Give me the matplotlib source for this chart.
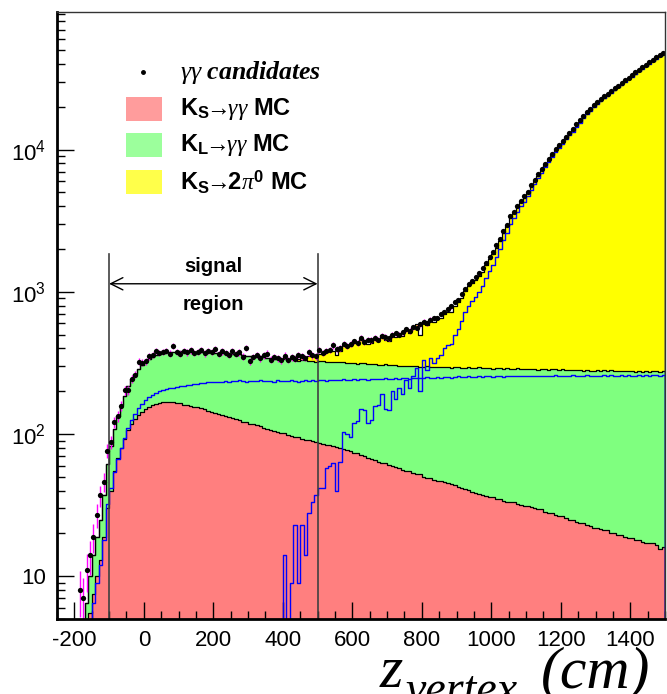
import numpy as np
import matplotlib
matplotlib.use('Agg')
import matplotlib.pyplot as plt
from matplotlib.patches import Rectangle
from matplotlib.ticker import FixedLocator, MultipleLocator, LogLocator, NullFormatter

plt.rcParams['font.family'] = ['Liberation Sans', 'DejaVu Sans']
plt.rcParams['axes.unicode_minus'] = False
plt.rcParams['mathtext.fontset'] = 'custom'
plt.rcParams['mathtext.rm'] = 'Liberation Sans'
plt.rcParams['mathtext.bf'] = 'Liberation Sans:bold'
plt.rcParams['mathtext.it'] = 'Liberation Serif:italic'

# z vertex binning, 10 cm bins from -250 to 1500 cm
edges = np.linspace(-250, 1500, 176)

# K_S -> gamma gamma MC (red)
ks_gg = [
    0, 0, 0, 0, 0, 0, 0, 2, 3.5, 5.5,
    7.5, 10, 13, 19, 30, 40, 55, 68, 80, 92,
    106, 117, 127, 137, 144, 150, 155, 159, 162, 165,
    167, 168, 169, 167, 166, 165, 161, 159, 158, 156,
    154, 152, 150, 146, 144, 140, 139, 136, 133, 132,
    129, 127, 126, 122, 121, 118, 117, 115, 114, 111,
    108, 107, 105, 103, 101, 101, 98, 97, 95, 95,
    93, 91, 91, 89, 88, 87, 85, 84, 84, 82,
    81, 80, 79, 77, 76, 74, 73, 71, 70, 68,
    67, 66, 64, 63, 63, 61, 60, 59, 58, 56,
    55, 55, 53, 52, 52, 50, 49, 49, 47.5, 47,
    46.5, 46, 45, 44.5, 43.5, 42.5, 42, 41, 40.5, 39,
    38.5, 38, 37.5, 36.5, 36, 36, 35, 35, 34, 33.5,
    33, 33, 32, 31.5, 31, 31, 30.5, 30, 29.5, 29.5,
    28.5, 28, 28, 27, 26.5, 26.5, 25.5, 25, 25, 24,
    23.5, 23.5, 23, 22.5, 22, 22, 21.5, 21, 21, 20,
    20, 19.5, 19.5, 19, 18.5, 18.5, 18, 18, 17.5, 17,
    17, 17, 16.5, 15.5, 16,
]

# K_L -> gamma gamma MC (green, blue outline alone)
kl_gg = [
    0, 0, 0, 0, 0, 0, 0, 2, 3, 4.5,
    6.5, 9, 12, 18, 32, 42, 54, 67, 80, 94,
    110, 125, 139, 152, 163, 173, 181, 189, 195, 200,
    204, 207, 210, 212, 214, 216, 218, 220, 222, 224,
    226, 228, 229, 231, 232, 233, 234, 233, 236, 234,
    237, 235, 238, 236, 234, 237, 235, 236, 239, 235,
    237, 236, 233, 238, 236, 237, 235, 238, 236, 234,
    237, 239, 236, 238, 235, 238, 240, 237, 239, 241,
    238, 240, 242, 239, 241, 243, 240, 243, 244, 241,
    243, 245, 242, 244, 247, 243, 245, 247, 244, 246,
    248, 245, 247, 249, 246, 248, 251, 247, 249, 251,
    248, 250, 252, 249, 251, 254, 250, 252, 254, 251,
    253, 256, 252, 254, 256, 253, 255, 257, 253, 256,
    254, 255, 258, 254, 256, 258, 255, 257, 254, 256,
    258, 255, 257, 260, 256, 258, 255, 257, 259, 256,
    258, 256, 259, 257, 255, 258, 256, 259, 257, 260,
    258, 256, 259, 257, 260, 258, 256, 259, 257, 260,
    258, 261, 259, 257, 260,
]

# K_S -> 2pi0 MC (yellow, blue outline alone)
ks_2pi0 = [
    0, 0, 0, 0, 0, 0, 0, 0, 0, 0,
    0, 0, 0, 0, 0, 0, 0, 0, 0, 0,
    0, 0, 0, 0, 0, 0, 0, 0, 0, 0,
    0, 0, 0, 0, 0, 0, 0, 0, 0, 0,
    0, 0, 0, 0, 0, 0, 0, 0, 0, 0,
    0, 0, 0, 0, 0, 0, 0, 0, 0, 0,
    0, 0, 0, 0, 0, 14, 0, 9, 23, 9,
    23, 14, 28, 33, 37, 42, 42, 58, 60, 63,
    40, 64, 103, 100, 96, 120, 124, 150, 148, 120,
    125, 158, 160, 190, 150, 148, 200, 175, 210, 190,
    240, 210, 255, 290, 200, 330, 280, 340, 315, 345,
    360, 400, 420, 430, 500, 550, 620, 720, 800, 860,
    920, 1000, 1100, 1250, 1400, 1550, 1750, 2000, 2300, 2600,
    3000, 3300, 3650, 4000, 4300, 4700, 5200, 5700, 6300, 6900,
    7500, 8200, 8900, 9600, 10300, 11000, 11800, 12600, 13400, 14500,
    15500, 16600, 17700, 18800, 19900, 21000, 22000, 23000, 24000, 25000,
    26200, 27400, 28600, 29900, 31200, 32600, 34000, 35500, 37000, 38600,
    40200, 41900, 43600, 45300, 47000,
]

# gamma gamma candidates (data)
data = [
    0, 0, 0, 0, 0, 0, 8, 7, 11, 14,
    19, 27, 37, 46, 76, 88, 121, 134, 157, 203,
    203, 244, 262, 322, 318, 326, 352, 360, 385, 372,
    380, 386, 368, 417, 378, 366, 384, 376, 388, 372,
    380, 391, 370, 384, 377, 395, 366, 382, 371, 360,
    384, 366, 376, 350, 404, 326, 348, 360, 342, 357,
    368, 334, 348, 340, 330, 356, 332, 346, 338, 360,
    352, 344, 376, 358, 352, 392, 372, 384, 392, 420,
    396, 402, 428, 416, 432, 448, 436, 476, 446, 462,
    460, 476, 462, 490, 480, 470, 496, 510, 500, 520,
    545, 530, 565, 560, 590, 615, 600, 635, 655, 655,
    700, 720, 760, 790, 850, 880, 960, 1050, 1130, 1200,
    1270, 1360, 1470, 1600, 1760, 1920, 2120, 2360, 2660, 2950,
    3400, 3620, 4000, 4380, 4700, 5080, 5600, 6120, 6700, 7350,
    7950, 8650, 9400, 10100, 10800, 11500, 12300, 13150, 13950, 15050,
    16100, 17200, 18300, 19450, 20550, 21700, 22700, 23700, 24750, 25800,
    27000, 28200, 29450, 30750, 32100, 33500, 34950, 36450, 37950, 39600,
    41200, 42900, 44650, 46350, 48100,
]

FLOOR = 0.1  # below the visible range, stands in for empty bins on log axis


def step_xy(vals):
    v = np.maximum(np.asarray(vals, float), FLOOR)
    x = np.repeat(edges, 2)
    y = np.concatenate([[FLOOR], np.repeat(v, 2), [FLOOR]])
    return x, y


W, H = 667, 694
fig = plt.figure(figsize=(W / 100, H / 100), dpi=100)
ax = fig.add_axes([57 / W, 75 / H, 608 / W, 607 / H])
ax.set_yscale('log')

red = np.array(ks_gg, float)
green = red + np.array(kl_gg, float)
yellow = green + np.array(ks_2pi0, float)

x, y_red = step_xy(red)
_, y_green = step_xy(green)
_, y_yel = step_xy(yellow)
_, y_kl = step_xy(kl_gg)
_, y_2pi = step_xy(ks_2pi0)

ax.fill_between(x, FLOOR, y_red, color='#ff7f7f', lw=0)
ax.fill_between(x, y_red, y_green, color='#7fff7f', lw=0)
ax.fill_between(x, y_green, y_yel, color='#ffff00', lw=0)
ax.plot(x, y_red, color='black', lw=0.9)
ax.plot(x, y_green, color='black', lw=0.9)
ax.plot(x, y_yel, color='black', lw=0.9)
ax.plot(x, y_kl, color='#0000ff', lw=1.0)
ax.plot(x, y_2pi, color='#0000ff', lw=1.0)

# signal region
ax.plot([-100, -100], [5, 1850], color='#404040', lw=1.2)
ax.plot([500, 500], [5, 1850], color='#404040', lw=1.2)
ax.annotate('', xy=(-100, 1140), xytext=(500, 1140),
            arrowprops=dict(arrowstyle='<->', color='black', lw=1,
                            mutation_scale=22, shrinkA=0, shrinkB=0))
ax.text(200, 1500, 'signal', ha='center', va='center', fontsize=14.5, fontweight='bold')
ax.text(200, 820, 'region', ha='center', va='center', fontsize=14.5, fontweight='bold')

# data points
centers = 0.5 * (edges[:-1] + edges[1:])
d = np.array(data, float)
m = d > 0
ax.errorbar(centers[m], d[m], yerr=np.sqrt(d[m]), fmt='none', ecolor='#ff00ff',
            elinewidth=1, capsize=0)
ax.plot(centers[m], d[m], 'o', color='black', ms=3.8, mew=0)

ax.set_xlim(-250, 1500)
ax.set_ylim(5, 9.3e4)

ax.xaxis.set_major_locator(MultipleLocator(200))
ax.xaxis.set_minor_locator(MultipleLocator(50))
ax.yaxis.set_major_locator(FixedLocator([10, 100, 1000, 10000]))
ax.set_yticklabels(['10', r'$\mathrm{10^{2}}$', r'$\mathrm{10^{3}}$', r'$\mathrm{10^{4}}$'])
ax.yaxis.set_minor_locator(LogLocator(base=10, subs=range(2, 10), numticks=20))
ax.yaxis.set_minor_formatter(NullFormatter())
ax.tick_params(which='both', direction='in', top=False, right=False, width=1)
ax.tick_params(which='major', length=12)
ax.tick_params(which='minor', length=6)
ax.tick_params(axis='x', labelsize=16, pad=8)
ax.tick_params(axis='y', labelsize=16, pad=8)

for s in ['left', 'bottom']:
    ax.spines[s].set_linewidth(2)
for s in ['top', 'right']:
    ax.spines[s].set_linewidth(1)
    ax.spines[s].set_color('#333333')


def fx(px):
    return px / W


def fy(py):
    return 1 - py / H


# legend
ax.plot([fx(143)], [fy(72)], 'o', ms=2.5, color='black', transform=fig.transFigure, clip_on=False)
fig.text(fx(180), fy(72), r'$\gamma\gamma$ candidates', family='Liberation Serif', style='italic',
         fontweight='bold', fontsize=18.5, va='center')
leg_colors = ['#ff9c9c', '#9cff9c', '#ffff4a']
leg_labels = [r'K$_{\mathbf{S}}\!\!\rightarrow\!\!\gamma\gamma$ MC',
              r'K$_{\mathbf{L}}\!\!\rightarrow\!\!\gamma\gamma$ MC',
              r'K$_{\mathbf{S}}\!\!\rightarrow\!\!$2$\pi^{\mathbf{0}}$ MC']
leg_y = [109, 145, 182]
for c, lab, yy in zip(leg_colors, leg_labels, leg_y):
    fig.add_artist(Rectangle((fx(126), fy(yy + 12)), 36 / W, 24 / H, transform=fig.transFigure,
                             facecolor=c, lw=0))
    fig.text(fx(180), fy(yy), lab, fontweight='bold', fontsize=17, va='center')

# x axis title
fig.text(fx(380), fy(687), 'z', family='Liberation Serif', style='italic', fontsize=43, va='baseline')
fig.text(fx(405), fy(703), 'vertex', family='Liberation Serif', style='italic', fontsize=33, va='baseline')
fig.text(fx(541), fy(687), '(cm)', family='Liberation Serif', style='italic', fontsize=43, va='baseline')

fig.savefig('out.png', dpi=100)
